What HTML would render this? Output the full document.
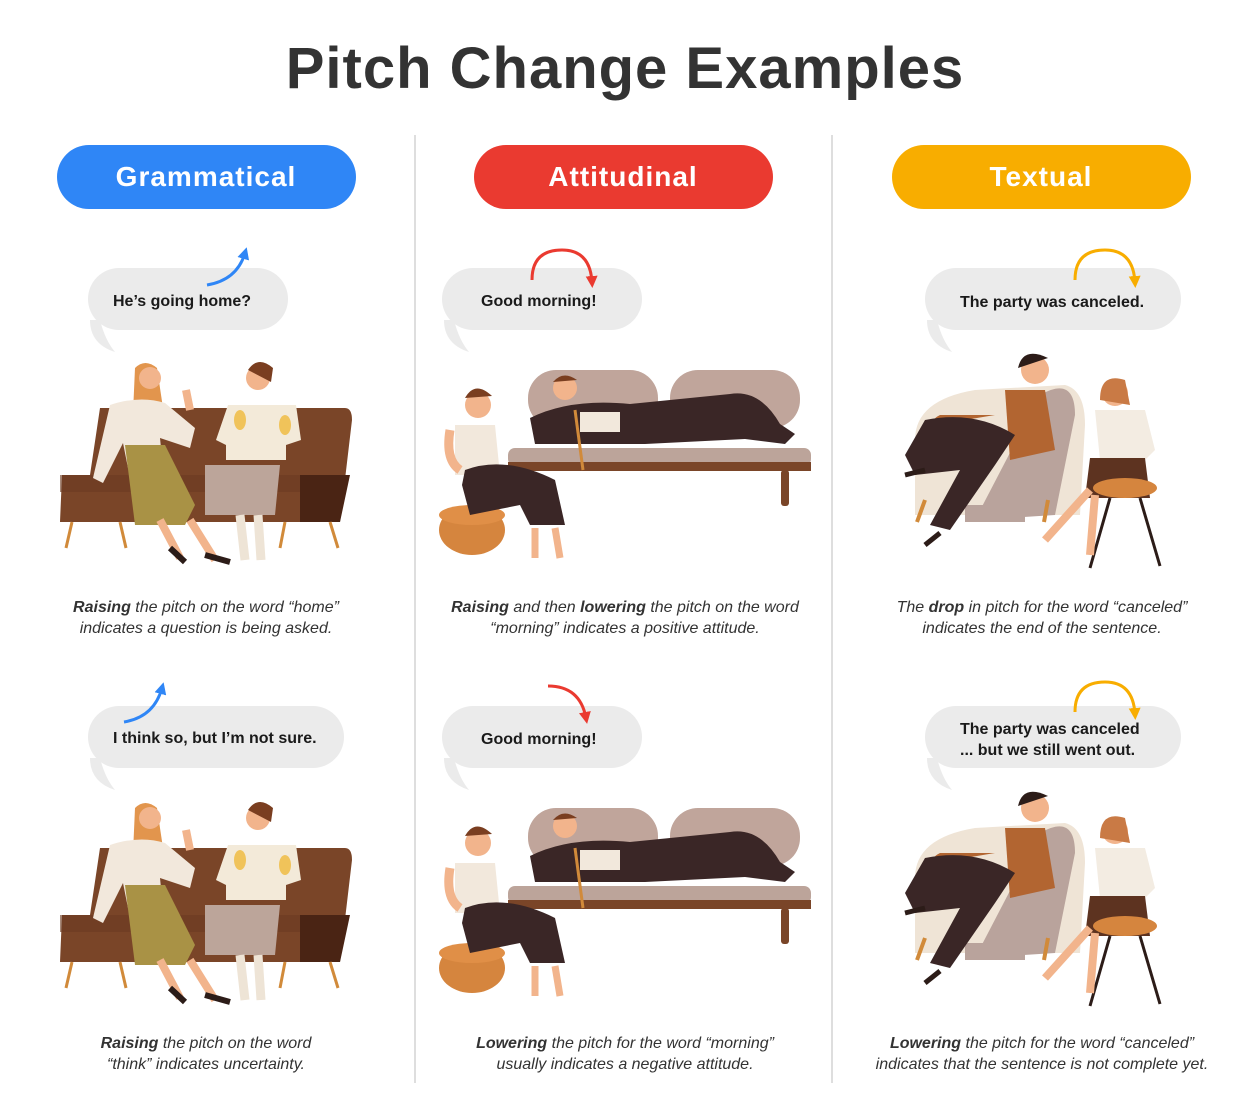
<!DOCTYPE html>
<html><head><meta charset="utf-8"><style>
body{margin:0;background:#fff;}
svg{display:block;font-family:"Liberation Sans",Arial,sans-serif;}
.cap{font-size:16px;font-style:italic;fill:#333;text-anchor:middle;}
.bt{font-size:16px;font-weight:bold;fill:#1a1a1a;}
.pill{font-size:28px;font-weight:bold;fill:#fff;text-anchor:middle;letter-spacing:1px;}
</style></head><body>
<svg width="1251" height="1120" viewBox="0 0 1251 1120" xmlns="http://www.w3.org/2000/svg">
<defs>
<marker id="ab" viewBox="0 0 10 10" refX="5" refY="5" markerWidth="4" markerHeight="4" orient="auto"><path d="M0,0L10,5L0,10z" fill="#2f86f6"/></marker>
<marker id="ar" viewBox="0 0 10 10" refX="5" refY="5" markerWidth="4" markerHeight="4" orient="auto"><path d="M0,0L10,5L0,10z" fill="#ea3a30"/></marker>
<marker id="ay" viewBox="0 0 10 10" refX="5" refY="5" markerWidth="4" markerHeight="4" orient="auto"><path d="M0,0L10,5L0,10z" fill="#f8ad00"/></marker>
<g id="s1">
 <path d="M100,408 H345 Q352,408 352,420 L340,522 H60 L62,475 H90 Z" fill="#7a4528"/>
 <path d="M300,475 H350 L340,522 H300 Z" fill="#4a2414"/>
 <path d="M60,475 H300 V492 H60Z" fill="#6b3b21" opacity=".6"/>
 <path d="M72,522 L66,548 M120,522 L126,548 M285,522 L280,548 M330,522 L338,548" stroke="#d18a3a" stroke-width="3"/>
 <path d="M135,368 q10,-10 22,0 l6,40 -30,5 z" fill="#e2954d"/>
 <circle cx="150" cy="378" r="11" fill="#f2b48c"/>
 <path d="M110,405 q30,-10 55,-2 l30,25 -5,20 -30,-10 3,30 -35,0 -5,-25 -20,40 -10,-5z" fill="#f2e8dc"/>
 <path d="M125,445 h40 l30,60 -10,20 h-50 z" fill="#a99245"/>
 <path d="M160,520 l20,38 M190,520 l25,40" stroke="#f2b48c" stroke-width="8"/>
 <path d="M170,548 l15,14 M205,555 l25,7" stroke="#2c1c18" stroke-width="6"/>
 <circle cx="258" cy="378" r="12" fill="#f2b48c"/><path d="M248,370 q10,-15 25,-2 l-2,14 z" fill="#7a3e20"/>
 <path d="M228,405 h68 l5,35 -15,5 v15 h-60 v-15 l-10,-5 z" fill="#f3ead9"/>
 <ellipse cx="240" cy="420" rx="6" ry="10" fill="#f0c35a"/><ellipse cx="285" cy="425" rx="6" ry="10" fill="#f0c35a"/>
 <path d="M205,465 h75 l-5,50 h-70 z" fill="#bca59a"/>
 <path d="M240,515 l5,45 M258,515 l3,45" stroke="#eee4d6" stroke-width="9"/>
 <path d="M186,390 l4,20" stroke="#f2b48c" stroke-width="8"/>
</g>
<g id="s2">
 <rect x="528" y="370" width="130" height="58" rx="28" fill="#c0a59b"/>
 <rect x="670" y="370" width="130" height="58" rx="28" fill="#c0a59b"/>
 <rect x="508" y="448" width="303" height="18" rx="7" fill="#bca49a"/>
 <rect x="508" y="462" width="303" height="9" fill="#7a4528"/>
 <rect x="781" y="470" width="8" height="36" rx="3" fill="#7a4528"/>
 <path d="M530,418 q40,-20 100,-14 l100,-10 q30,-5 50,30 l15,10 -10,10 -40,-5 -100,5 -110,0 z" fill="#3a2626"/>
 <path d="M580,412 h40 v20 h-40z" fill="#f2e8dc"/>
 <circle cx="565" cy="388" r="12" fill="#f2b48c"/><path d="M553,382 q10,-12 24,-2 z" fill="#7a3e20"/>
 <path d="M575,410 l8,60" stroke="#d18a3a" stroke-width="3"/>
 <ellipse cx="472" cy="530" rx="33" ry="25" fill="#d5853e"/>
 <ellipse cx="472" cy="515" rx="33" ry="10" fill="#e08f47"/>
 <circle cx="478" cy="405" r="13" fill="#f2b48c"/><path d="M465,398 q10,-18 27,-2 z" fill="#7a3e20"/>
 <path d="M455,425 h40 l5,50 h-45 z" fill="#f2e8dc"/>
 <path d="M465,470 q40,-15 90,10 l10,45 -35,0 -10,-20 -50,10 -8,-30 z" fill="#3a2626"/>
 <path d="M535,528 l0,30 M555,528 l5,30" stroke="#f2b48c" stroke-width="7"/>
 <path d="M450,430 q-5,30 10,40" stroke="#f2b48c" stroke-width="9" fill="none"/>
</g>
<g id="s3">
 <path d="M915,440 q0,-40 60,-50 l90,-5 q20,5 20,40 l-5,90 -165,0 z" fill="#efe4d6"/>
 <path d="M1040,395 q35,-20 35,20 l-20,100 -80,5 z" fill="#b9a39c"/>
 <path d="M965,505 h60 v17 h-60z" fill="#b9a39c"/>
 <path d="M925,500 l-8,22 M1048,500 l-4,22" stroke="#d18a3a" stroke-width="4"/>
 <circle cx="1035" cy="370" r="14" fill="#f2b48c"/><path d="M1018,368 q5,-22 30,-10 z" fill="#2c1c18"/>
 <path d="M1005,390 h40 l10,60 -45,10 z" fill="#b26531"/>
 <path d="M940,415 q-10,5 -5,10 l60,-10 z" fill="#b26531"/>
 <path d="M925,420 q50,-10 90,15 l-20,30 -45,65 -20,-5 30,-55 -45,5 -10,-20 z" fill="#3a2626"/>
 <path d="M905,475 l20,-5 M925,545 l15,-12" stroke="#2c1c18" stroke-width="5"/>
 <circle cx="1115" cy="393" r="13" fill="#f2b48c"/><path d="M1100,400 q0,-28 25,-20 l5,25 z" fill="#c97a45"/>
 <path d="M1095,410 h50 l10,40 -10,10 h-45 z" fill="#f3ece2"/>
 <path d="M1090,458 h55 l5,40 h-65 z" fill="#5d3320"/>
 <ellipse cx="1125" cy="488" rx="32" ry="10" fill="#d5853e"/>
 <path d="M1110,498 l-20,70 M1140,498 l20,68" stroke="#2c1c18" stroke-width="3"/>
 <path d="M1090,490 l-45,50 M1095,495 l-5,60" stroke="#f2b48c" stroke-width="8"/>
</g>
</defs>

<text x="625" y="88" font-size="58" font-weight="bold" fill="#333" text-anchor="middle" letter-spacing="1">Pitch Change Examples</text>

<line x1="415" y1="135" x2="415" y2="1083" stroke="#dedede" stroke-width="2"/>
<line x1="832" y1="135" x2="832" y2="1083" stroke="#dedede" stroke-width="2"/>

<rect x="57" y="145" width="299" height="64" rx="32" fill="#2f86f6"/>
<text x="206" y="186" class="pill">Grammatical</text>
<rect x="474" y="145" width="299" height="64" rx="32" fill="#ea3a30"/>
<text x="623" y="186" class="pill">Attitudinal</text>
<rect x="892" y="145" width="299" height="64" rx="32" fill="#f8ad00"/>
<text x="1041" y="186" class="pill">Textual</text>

<!-- bubbles row 1 -->
<g fill="#ebebeb">
 <rect x="88" y="268" width="200" height="62" rx="31"/><path d="M100,320 q5,20 15,32 q-25,-8 -25,-32z"/>
 <rect x="442" y="268" width="200" height="62" rx="31"/><path d="M454,320 q5,20 15,32 q-25,-8 -25,-32z"/>
 <rect x="925" y="268" width="256" height="62" rx="31"/><path d="M937,320 q5,20 15,32 q-25,-8 -25,-32z"/>
 <rect x="88" y="706" width="256" height="62" rx="31"/><path d="M100,758 q5,20 15,32 q-25,-8 -25,-32z"/>
 <rect x="442" y="706" width="200" height="62" rx="31"/><path d="M454,758 q5,20 15,32 q-25,-8 -25,-32z"/>
 <rect x="925" y="706" width="256" height="62" rx="31"/><path d="M937,758 q5,20 15,32 q-25,-8 -25,-32z"/>
</g>
<text x="113" y="306" class="bt">He’s going home?</text>
<text x="481" y="306" class="bt">Good morning!</text>
<text x="960" y="307" class="bt">The party was canceled.</text>
<text x="113" y="743" class="bt">I think so, but I’m not sure.</text>
<text x="481" y="744" class="bt">Good morning!</text>
<text x="960" y="734" class="bt">The party was canceled</text>
<text x="960" y="755" class="bt">... but we still went out.</text>

<!-- arrows -->
<g fill="none" stroke-width="3">
 <path d="M207,285 q30,-5 38,-32" stroke="#2f86f6" marker-end="url(#ab)"/>
 <path d="M532,280 q0,-30 30,-30 q28,0 30,32" stroke="#ea3a30" marker-end="url(#ar)"/>
 <path d="M1075,280 q0,-30 30,-30 q28,0 30,32" stroke="#f8ad00" marker-end="url(#ay)"/>
 <path d="M124,722 q30,-5 38,-34" stroke="#2f86f6" marker-end="url(#ab)"/>
 <path d="M548,686 q32,0 38,32" stroke="#ea3a30" marker-end="url(#ar)"/>
 <path d="M1075,712 q0,-30 30,-30 q28,0 30,32" stroke="#f8ad00" marker-end="url(#ay)"/>
</g>

<use href="#s1"/><use href="#s2"/><use href="#s3"/>
<use href="#s1" y="440"/><use href="#s2" y="438"/><use href="#s3" y="438"/>

<text class="cap" x="206" y="612"><tspan font-weight="bold">Raising</tspan> the pitch on the word “home”</text>
<text class="cap" x="206" y="633">indicates a question is being asked.</text>
<text class="cap" x="625" y="612"><tspan font-weight="bold">Raising</tspan> and then <tspan font-weight="bold">lowering</tspan> the pitch on the word</text>
<text class="cap" x="625" y="633">“morning” indicates a positive attitude.</text>
<text class="cap" x="1042" y="612">The <tspan font-weight="bold">drop</tspan> in pitch for the word “canceled”</text>
<text class="cap" x="1042" y="633">indicates the end of the sentence.</text>
<text class="cap" x="206" y="1048"><tspan font-weight="bold">Raising</tspan> the pitch on the word</text>
<text class="cap" x="206" y="1069">“think” indicates uncertainty.</text>
<text class="cap" x="625" y="1048"><tspan font-weight="bold">Lowering</tspan> the pitch for the word “morning”</text>
<text class="cap" x="625" y="1069">usually indicates a negative attitude.</text>
<text class="cap" x="1042" y="1048"><tspan font-weight="bold">Lowering</tspan> the pitch for the word “canceled”</text>
<text class="cap" x="1042" y="1069">indicates that the sentence is not complete yet.</text>
</svg>
</body></html>
